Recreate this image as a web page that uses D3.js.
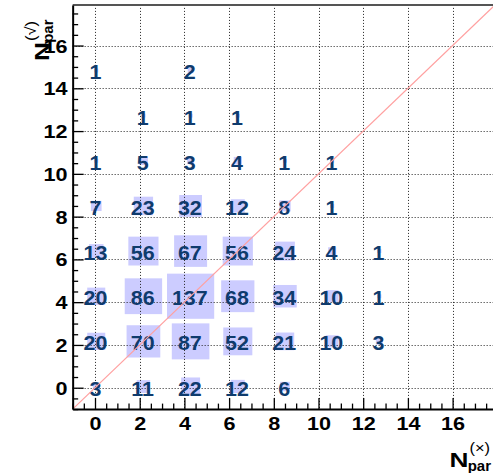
<!DOCTYPE html>
<html>
<head>
<meta charset="utf-8">
<script src="https://cdn.jsdelivr.net/npm/d3@7"></script>
<style>
  html, body { margin: 0; padding: 0; background: #fff; }
  svg { display: block; font-family: "Liberation Sans", Arial, Helvetica, sans-serif; }
</style>
</head>
<body>
<svg id="chart" width="493" height="473"></svg>
<script>
// Binning: 9 x 9 bins spanning [-1, 18] on both axes
const binLow = -1;
const binHigh = 18;
const nBins = 9;

// Entries per row of y bins (bottom row first); position in a row = x bin
const row0 = [3, 11, 22, 12, 6, 0, 0, 0, 0];
const row1 = [20, 70, 87, 52, 21, 10, 3, 0, 0];
const row2 = [20, 86, 137, 68, 34, 10, 1, 0, 0];
const row3 = [13, 56, 67, 56, 24, 4, 1, 0, 0];
const row4 = [7, 23, 32, 12, 8, 1, 0, 0, 0];
const row5 = [1, 5, 3, 4, 1, 1, 0, 0, 0];
const row6 = [0, 1, 1, 1, 0, 0, 0, 0, 0];
const row7 = [1, 0, 2, 0, 0, 0, 0, 0, 0];
const row8 = [0, 0, 0, 0, 0, 0, 0, 0, 0];
const rows = [row0, row1, row2, row3, row4, row5, row6, row7, row8];

// Axis tick labels
const xTickLabels = [0, 2, 4, 6, 8, 10, 12, 14, 16];
const yTickLabels = [0, 2, 4, 6, 8, 10, 12, 14, 16];

const svg = d3.select("#chart");
svg.append("rect").attr("width", 493).attr("height", 473).attr("fill", "#fff");

const x = d3.scaleLinear().domain([-1, 18]).range([72.65, 497.3]);
const y = d3.scaleLinear().domain([-1, 17.9]).range([409.1, 4.9]);

const binW = (binHigh - binLow) / nBins;
const cells = [];
rows.forEach((r, j) => r.forEach((v, i) => {
  if (v > 0) cells.push({
    cx: binLow + (i + 0.5) * binW,
    cy: binLow + (j + 0.5) * binW,
    v
  });
}));
const vmax = d3.max(cells, d => d.v);
const half = d => 0.5 * binW * Math.sqrt(d.v / vmax);

svg.append("defs").append("clipPath").attr("id", "frame")
  .append("rect")
  .attr("x", x(-1)).attr("y", y(17.9))
  .attr("width", x(18) - x(-1)).attr("height", y(-1) - y(17.9));

const plot = svg.append("g").attr("clip-path", "url(#frame)");

// Boxes: area proportional to bin content
plot.selectAll("rect.box").data(cells).enter().append("rect")
  .attr("class", "box")
  .attr("x", d => x(d.cx - half(d)))
  .attr("y", d => y(d.cy + half(d)))
  .attr("width", d => x(d.cx + half(d)) - x(d.cx - half(d)))
  .attr("height", d => y(d.cy - half(d)) - y(d.cy + half(d)))
  .attr("fill", "#ccccff");

// Dotted grid at major ticks
const grid = plot.append("g").attr("stroke", "#222").attr("stroke-width", 1)
  .attr("stroke-dasharray", "1,2");
grid.selectAll("line.gx").data(xTickLabels).enter().append("line")
  .attr("x1", d => Math.round(x(d)) + 0.5).attr("x2", d => Math.round(x(d)) + 0.5)
  .attr("y1", y(17.9)).attr("y2", y(-1));
grid.selectAll("line.gy").data(yTickLabels).enter().append("line")
  .attr("y1", d => Math.round(y(d)) + 0.5).attr("y2", d => Math.round(y(d)) + 0.5)
  .attr("x1", x(-1)).attr("x2", x(18));

// Bin contents as text
plot.selectAll("text.val").data(cells).enter().append("text")
  .attr("transform", d => `translate(${x(d.cx) - 0.8},${y(d.cy) + 9}) scale(1.1,1)`)
  .attr("text-anchor", "middle")
  .attr("font-size", 19.5)
  .attr("font-weight", "bold")
  .attr("fill", "#0f3b6d")
  .text(d => d.v);

// Diagonal reference line
plot.append("line")
  .attr("x1", x(-1)).attr("y1", y(-1))
  .attr("x2", x(18)).attr("y2", y(18))
  .attr("stroke", "#ffa0a0").attr("stroke-width", 1.2);

// Top frame edge
svg.append("line")
  .attr("x1", x(-1)).attr("x2", 493)
  .attr("y1", y(17.9)).attr("y2", y(17.9))
  .attr("stroke", "#555").attr("stroke-width", 2);

// Axes: major ticks with labels, minor ticks every 0.5
const minorX = d3.range(-1, 18.01, 0.5).filter(v => v % 2 !== 0);
const minorY = d3.range(-1, 17.91, 0.5).filter(v => v % 2 !== 0);

function styleAxis(g) {
  g.select(".domain").attr("stroke", "#000").attr("stroke-width", 2);
  g.selectAll(".tick line").attr("stroke", "#000").attr("stroke-width", 1.3);
  g.selectAll("text").attr("font-size", 18).attr("font-weight", "bold")
    .attr("fill", "#000").attr("font-family", "'Liberation Sans', Arial, sans-serif");
}

svg.append("g").attr("transform", `translate(0,${y(-1)})`)
  .call(d3.axisBottom(x).tickValues(xTickLabels).tickSize(-11).tickSizeOuter(0)
    .tickPadding(8.2).tickFormat(d3.format("d")))
  .call(styleAxis)
  .call(g => g.selectAll("text").attr("transform", "scale(1.2,1)"));
svg.append("g").attr("transform", `translate(0,${y(-1)})`)
  .call(d3.axisBottom(x).tickValues(minorX).tickSize(-5.5).tickSizeOuter(0).tickFormat(""))
  .call(g => g.select(".domain").remove())
  .call(styleAxis);

svg.append("g").attr("transform", `translate(${x(-1)},0)`)
  .call(d3.axisLeft(y).tickValues(yTickLabels).tickSize(-11).tickSizeOuter(0)
    .tickPadding(4.2).tickFormat(d3.format("d")))
  .call(styleAxis)
  .call(g => g.selectAll("text").attr("dy", "0.36em").attr("transform", "scale(1.2,1)"));
svg.append("g").attr("transform", `translate(${x(-1)},0)`)
  .call(d3.axisLeft(y).tickValues(minorY).tickSize(-5.5).tickSizeOuter(0).tickFormat(""))
  .call(g => g.select(".domain").remove())
  .call(styleAxis);

// Axis titles: N with "par" subscript and a superscript tag
function axisTitle(g, sup) {
  const n = g.append("text").attr("x", 0).attr("y", 0)
    .attr("transform", "scale(1.25,1)")
    .attr("font-size", 21).attr("font-weight", "bold").attr("fill", "#000").text("N");
  const w = n.node().getComputedTextLength() * 1.25;
  g.append("text").attr("x", 0).attr("y", 0)
    .attr("transform", `translate(${w - 0.8},3.8)`)
    .attr("font-size", 15).attr("font-weight", "bold").attr("fill", "#000").text("par");
  g.append("text").attr("x", 0).attr("y", 0)
    .attr("transform", `translate(${w + 1},-13.5) scale(1.1,1)`)
    .attr("font-size", 15).attr("fill", "#000").text(sup);
}
axisTitle(svg.append("g").attr("transform", "translate(449.5,466.7)"), "(\u00d7)");
axisTitle(svg.append("g").attr("transform", "translate(49,61) rotate(-90)"), "(\u221a)");
</script>
</body>
</html>
